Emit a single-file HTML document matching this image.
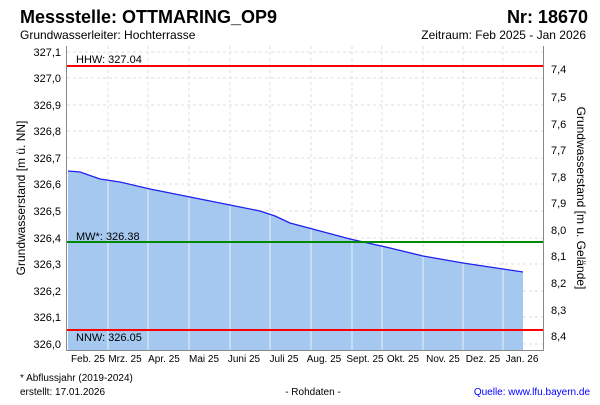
<!DOCTYPE html><html><head><style>body{margin:0;width:600px;height:400px;background:#fff;overflow:hidden;font-family:"Liberation Sans",sans-serif}</style></head><body>
<svg width="600" height="400" xmlns="http://www.w3.org/2000/svg" font-family="Liberation Sans, sans-serif">
<text x="20" y="23" font-size="18" font-weight="bold">Messstelle: OTTMARING_OP9</text>
<text x="588" y="23" font-size="18" font-weight="bold" text-anchor="end">Nr: 18670</text>
<text x="20" y="39" font-size="12">Grundwasserleiter:   Hochterrasse</text>
<text x="586" y="39" font-size="12" text-anchor="end">Zeitraum: Feb 2025 - Jan 2026</text>
<g stroke="#ddd" stroke-dasharray="3,3" stroke-width="1">
<line x1="67" x2="543" y1="52" y2="52"/><line x1="67" x2="543" y1="78" y2="78"/><line x1="67" x2="543" y1="105" y2="105"/><line x1="67" x2="543" y1="131" y2="131"/><line x1="67" x2="543" y1="158" y2="158"/><line x1="67" x2="543" y1="184" y2="184"/><line x1="67" x2="543" y1="211" y2="211"/><line x1="67" x2="543" y1="238" y2="238"/><line x1="67" x2="543" y1="264" y2="264"/><line x1="67" x2="543" y1="291" y2="291"/><line x1="67" x2="543" y1="317" y2="317"/><line x1="67" x2="543" y1="344" y2="344"/>
<line y1="46" y2="350" x1="108" x2="108"/><line y1="46" y2="350" x1="148" x2="148"/><line y1="46" y2="350" x1="189" x2="189"/><line y1="46" y2="350" x1="230" x2="230"/><line y1="46" y2="350" x1="270" x2="270"/><line y1="46" y2="350" x1="311" x2="311"/><line y1="46" y2="350" x1="352" x2="352"/><line y1="46" y2="350" x1="382" x2="382"/><line y1="46" y2="350" x1="423" x2="423"/><line y1="46" y2="350" x1="463" x2="463"/><line y1="46" y2="350" x1="503" x2="503"/>
</g>
<path d="M68,171 L80,172 L100,179 L120,182 L150,189 L190,197 L230,205 L260,211 L275,216 L290,223 L320,231 L350,239 L390,248 L423,256 L463,263 L503,269 L523,272 L523,350 L68,350 Z" fill="#a5c8f0"/>
<g stroke="#e8eef8" stroke-width="1"><line y1="180" y2="350" x1="108" x2="108"/><line y1="190" y2="350" x1="148" x2="148"/><line y1="198" y2="350" x1="189" x2="189"/><line y1="206" y2="350" x1="230" x2="230"/><line y1="214" y2="350" x1="270" x2="270"/><line y1="229" y2="350" x1="311" x2="311"/><line y1="240" y2="350" x1="352" x2="352"/><line y1="247" y2="350" x1="382" x2="382"/><line y1="257" y2="350" x1="423" x2="423"/><line y1="264" y2="350" x1="463" x2="463"/><line y1="270" y2="350" x1="503" x2="503"/></g>
<path d="M68,171 L80,172 L100,179 L120,182 L150,189 L190,197 L230,205 L260,211 L275,216 L290,223 L320,231 L350,239 L390,248 L423,256 L463,263 L503,269 L523,272" fill="none" stroke="#2020ee" stroke-width="1.3"/>
<line x1="67" x2="543" y1="66" y2="66" stroke="#f00" stroke-width="2"/>
<line x1="67" x2="543" y1="242" y2="242" stroke="#080" stroke-width="2"/>
<line x1="67" x2="543" y1="330" y2="330" stroke="#f00" stroke-width="2"/>
<g font-size="11"><text x="76" y="63">HHW: 327.04</text><text x="76" y="240">MW*: 326.38</text><text x="76" y="341">NNW: 326.05</text></g>
<g stroke="#888" fill="none"><line x1="66.5" x2="66.5" y1="46" y2="351"/><line x1="543.5" x2="543.5" y1="46" y2="351"/><line x1="66" x2="544" y1="350.5" y2="350.5"/></g>
<g font-size="11" text-anchor="end"><text x="61" y="56">327,1</text><text x="61" y="82">327,0</text><text x="61" y="109">326,9</text><text x="61" y="135">326,8</text><text x="61" y="162">326,7</text><text x="61" y="188">326,6</text><text x="61" y="215">326,5</text><text x="61" y="242">326,4</text><text x="61" y="268">326,3</text><text x="61" y="295">326,2</text><text x="61" y="321">326,1</text><text x="61" y="348">326,0</text></g>
<g font-size="11"><text x="551" y="73">7,4</text><text x="551" y="101">7,5</text><text x="551" y="128">7,6</text><text x="551" y="154">7,7</text><text x="551" y="181">7,8</text><text x="551" y="207">7,9</text><text x="551" y="234">8,0</text><text x="551" y="260">8,1</text><text x="551" y="287">8,2</text><text x="551" y="314">8,3</text><text x="551" y="340">8,4</text></g>
<g font-size="10" text-anchor="middle"><text x="88" y="362">Feb. 25</text><text x="125" y="362">Mrz. 25</text><text x="164" y="362">Apr. 25</text><text x="204" y="362">Mai 25</text><text x="244" y="362">Juni 25</text><text x="284" y="362">Juli 25</text><text x="324" y="362">Aug. 25</text><text x="365" y="362">Sept. 25</text><text x="403" y="362">Okt. 25</text><text x="443" y="362">Nov. 25</text><text x="483" y="362">Dez. 25</text><text x="522" y="362">Jan. 26</text></g>
<text transform="translate(25,198) rotate(-90)" font-size="12" text-anchor="middle">Grundwasserstand [m ü. NN]</text>
<text transform="translate(577,198) rotate(90)" font-size="12" text-anchor="middle">Grundwasserstand [m u. Gelände]</text>
<text x="20" y="381" font-size="10">* Abflussjahr (2019-2024)</text>
<text x="20" y="395" font-size="10">erstellt:  17.01.2026</text>
<text x="313" y="395" font-size="10" text-anchor="middle">- Rohdaten -</text>
<text x="590" y="395" font-size="10" text-anchor="end" fill="#00f">Quelle:  www.lfu.bayern.de</text>
</svg></body></html>
